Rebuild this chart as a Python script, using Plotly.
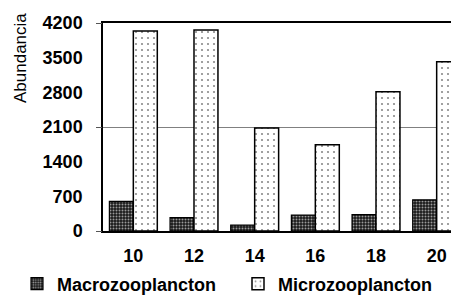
import plotly.graph_objects as go

categories = ["10", "12", "14", "16", "18", "20"]
macro = [600, 270, 120, 320, 330, 630]
micro = [4040, 4060, 2080, 1740, 2810, 3420]
y_ticks = [0, 700, 1400, 2100, 2800, 3500, 4200]
series_names = ["Macrozooplancton", "Microzooplancton"]

FONT = "Liberation Sans, Arial, sans-serif"

fig = go.Figure()
fig.add_trace(go.Bar(
    x=categories, y=macro, name=series_names[0], legend="legend",
    marker=dict(color="#1a1a1a", line=dict(color="black", width=1.2),
                pattern=dict(shape=".", fgcolor="#9a9a9a", bgcolor="#1a1a1a",
                             size=3, solidity=0.35, fillmode="replace")),
))
fig.add_trace(go.Bar(
    x=categories, y=micro, name=series_names[1], legend="legend2",
    marker=dict(color="white", line=dict(color="black", width=1.5),
                pattern=dict(shape=".", fgcolor="#8a8a8a", bgcolor="white",
                             size=6, solidity=0.1, fillmode="replace")),
))
# invisible trace to drive the secondary axis gridlines
fig.add_trace(go.Scatter(x=categories, y=[None]*len(categories), yaxis="y2",
                         showlegend=False, hoverinfo="skip"))

PLOT_W, PLOT_H = 364, 208
legend_common = dict(orientation="h", xref="paper", yref="paper",
                     y=(223-276)/PLOT_H, xanchor="left", yanchor="middle",
                     font=dict(family=FONT, size=18, weight="bold"),
                     bgcolor="rgba(0,0,0,0)", borderwidth=0)

fig.update_layout(
    width=459, height=298,
    margin=dict(l=95, r=0, t=15, b=75, autoexpand=False),
    paper_bgcolor="white", plot_bgcolor="white",
    barmode="group", bargap=0.21, bargroupgap=0,
    font=dict(family=FONT, size=18, color="black"),
    xaxis=dict(type="category", showline=True, linecolor="black", linewidth=1.5,
               mirror=True, ticks="outside", ticklen=8, tickcolor="rgba(0,0,0,0)",
               tickfont=dict(family=FONT, size=18, weight="bold"), showgrid=False,
               automargin=False),
    yaxis=dict(range=[0, 4200], tickvals=y_ticks, showgrid=False, zeroline=False,
               showline=True, linecolor="black", linewidth=1.5,
               ticks="outside", ticklen=15, tickcolor="rgba(0,0,0,0)",
               tickfont=dict(family=FONT, size=18, weight="bold"), automargin=False),
    yaxis2=dict(range=[0, 4200], overlaying="y", side="left", dtick=2100,
                showgrid=True, gridcolor="#808080", gridwidth=1,
                showticklabels=False, ticks="outside", ticklen=6, tickcolor="#555",
                zeroline=False, showline=False, automargin=False),
    legend=dict(legend_common, x=(9-95)/PLOT_W),
    legend2=dict(legend_common, x=(230-95)/PLOT_W),
    showlegend=True,
    annotations=[dict(text="Abundancia", textangle=-90, xref="paper", yref="paper",
                      x=(13-95)/PLOT_W, y=(223-50)/PLOT_H, xanchor="center", yanchor="middle",
                      showarrow=False, font=dict(family=FONT, size=17, color="black"))],
)

fig.write_html("out.html")
